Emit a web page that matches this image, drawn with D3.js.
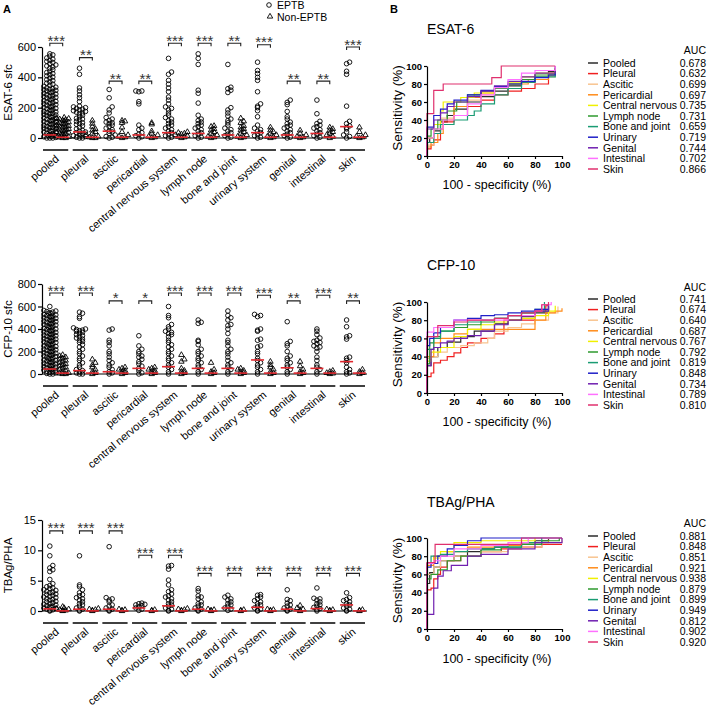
<!DOCTYPE html>
<html><head><meta charset="utf-8">
<script src="https://cdn.jsdelivr.net/npm/d3@7"></script>
<style>body{margin:0;background:#fff}svg{display:block}</style>
</head><body><svg id="c" width="708" height="708"></svg>
<script>
const F = "'Liberation Sans', Arial, sans-serif";
const categories = ["pooled","pleural","ascitic","pericardial","central nervous system","lymph node","bone and joint","urinary system","genital","intestinal","skin"];

// ---------- ESAT-6 sfc ----------
const esatEPTB = [
 [555,548,540,528,520,512,505,498,490,482,475,468,460,450,440,432,425,418,410,402,395,385,378,370,362,355,348,340,335,330,326,322,318,314,310,306,302,298,294,290,285,280,276,272,268,264,260,255,250,246,242,238,234,230,225,220,216,212,208,204,200,196,192,188,184,180,176,172,168,164,160,156,152,148,144,140,136,132,128,124,120,116,112,108,104,100,96,92,88,84,80,76,72,68,64,60,56,52,48,44,40,36,32,28,24,20,16,12,8,4,0,0,0],
 [460,420,330,310,285,265,240,210,205,200,195,190,185,180,175,170,165,160,150,140,130,125,120,110,100,95,90,80,70,60,50,45,40,35,30,25,20,15,10,5,0,0],
 [320,265,205,185,165,135,125,115,105,100,95,85,75,65,55,45,40,30,20,10,5,0],
 [310,310,305,240,225,85,65,55,35,25,15,8,0],
 [525,435,420,380,355,330,305,270,250,225,205,195,185,165,150,135,125,115,105,95,85,75,65,55,45,35,25,15,5,0],
 [555,525,485,315,295,230,150,125,115,105,95,85,75,65,55,45,35,25,15,5,0],
 [485,335,325,315,300,200,185,165,145,125,115,100,85,65,55,45,35,25,15,5,0],
 [500,445,425,400,380,305,225,210,200,180,140,85,65,55,45,35,25,15,5,0],
 [250,235,220,175,140,125,105,95,85,75,65,55,45,35,25,15,5,0],
 [250,160,110,95,85,75,65,55,45,35,25,15,5,0],
 [500,490,440,420,210,110,95,80,70,60,40,20,10,0]
];
const esatNon = [
 [135,132,128,124,120,116,112,108,104,100,96,92,88,84,80,76,72,68,64,60,56,52,48,44,40,36,32,28,24,20,16,12,8,4,0,0],
 [115,95,75,60,50,40,30,20,10,5,0,0],
 [115,110,100,70,40,20,10,5,0],
 [100,90,45,30,20,10,5,0],
 [40,35,30,25,20,15,10,5,0],
 [80,75,60,50,40,30,20,10,5,0],
 [130,110,100,80,70,60,50,40,30,20,10,5,0],
 [70,50,40,30,20,10,5,0],
 [50,30,20,10,5,0],
 [70,60,50,40,30,20,10,0],
 [70,40,20,10,5,0]
];
const esatMedE = [20,40,45,20,35,30,20,35,20,30,75];
const esatMedN = [5,5,5,5,5,5,5,5,5,5,5];
const esatStars = ["***","**","**","**","***","***","**","***","**","**","***"];
const esatBracket = [625,530,375,375,625,625,625,615,375,375,600];
const esatTicks = [0,200,400,600];

// ---------- CFP-10 sfc ----------
const cfpEPTB = [
 [600,565,560,555,550,545,540,535,530,525,520,515,510,505,500,495,490,485,480,475,470,465,460,455,450,445,440,435,430,425,420,415,410,405,400,395,390,385,380,375,370,365,360,355,350,345,340,335,330,325,320,315,310,305,300,295,290,285,280,275,270,265,260,255,250,245,240,235,230,225,220,215,210,205,200,195,190,185,180,175,170,165,160,155,150,145,140,135,130,125,120,115,110,105,100,95,90,85,80,75,70,65,60,55,50,45,40,35,30,25,20,15,10,5,0,0],
 [550,540,510,495,410,400,395,390,385,380,370,360,350,340,330,320,310,300,290,280,260,240,220,200,180,160,140,120,100,80,60,40,30,20,10,0,0],
 [400,390,300,280,250,200,180,150,120,100,80,60,40,20,10,0],
 [340,250,220,200,180,160,150,130,110,90,70,50,30,10,0],
 [600,520,500,440,420,400,380,370,360,350,330,300,280,260,240,220,200,180,160,140,120,100,80,60,40,20,0],
 [480,460,450,300,290,260,220,200,180,160,140,120,100,80,60,40,20,0],
 [560,520,500,480,440,430,400,360,300,280,250,220,200,180,150,120,100,80,60,40,20,0],
 [530,520,510,400,390,380,310,300,250,240,200,180,140,120,100,80,60,40,20,0],
 [465,290,270,250,200,160,140,120,100,80,60,40,20,0],
 [400,380,350,320,300,290,280,270,250,240,230,200,150,120,80,60,40,20,0],
 [480,420,340,330,310,150,140,120,100,60,40,20,10,0]
];
const cfpNon = [
 [170,160,150,140,130,120,110,100,90,80,70,60,50,40,30,20,10,5,0,0],
 [130,100,80,60,40,20,10,0],
 [60,50,40,30,20,10,0],
 [60,50,40,30,20,10,0],
 [170,130,110,50,30,20,10,0],
 [100,40,20,10,0],
 [50,40,30,20,10,0],
 [110,80,60,40,20,10,0],
 [110,70,40,20,10,0],
 [30,20,10,5,0],
 [40,20,10,0]
];
const cfpMedE = [44,30,20,50,65,50,50,125,55,50,110];
const cfpMedN = [8,8,8,8,8,8,8,8,8,8,8];
const cfpStars = ["***","***","*","*","***","***","***","***","**","***","**"];
const cfpBracket = [720,720,650,650,720,720,720,700,650,700,650];
const cfpTicks = [0,200,400,600,800];

// ---------- TBAg/PHA ----------
const tbagEPTB = [
 [10.7,9.1,7.5,7.1,6.8,6.5,5.2,4.5,4.2,4.0,3.8,3.7,3.5,3.4,3.2,3.1,3.0,2.8,2.7,2.6,2.4,2.3,2.2,2.0,1.9,1.8,1.6,1.5,1.4,1.2,1.1,1.0,0.9,0.8,0.7,0.6,0.5,0.4,0.3,0.2,0.1,0],
 [9.1,4.3,4.0,3.5,3.0,2.7,2.5,2.2,2.0,1.8,1.5,1.2,1.0,0.8,0.5,0.3,0.1,0],
 [10.6,2.2,2.0,1.8,1.5,1.0,0.8,0.5,0.3,0.1,0],
 [1.3,1.2,1.1,1.0,0.9,0.7,0.5,0.3,0.1],
 [7.5,7.4,6.9,5.1,4.3,3.5,3.2,2.8,2.5,2.3,2.0,1.8,1.5,1.2,1.0,0.8,0.5,0.3,0.1,0],
 [3.7,3.3,2.5,2.3,2.0,1.5,1.2,1.0,0.8,0.5,0.3,0.1,0],
 [2.6,2.3,2.0,1.8,1.5,1.2,1.0,0.8,0.5,0.3,0.1],
 [2.7,2.6,2.3,2.0,1.7,1.5,1.2,1.0,0.8,0.5,0.3,0.1,0],
 [3.5,1.9,1.7,1.3,1.0,0.8,0.5,0.3,0.1,0],
 [3.8,2.1,2.0,1.8,1.5,1.2,1.0,0.8,0.6,0.4,0.2,0],
 [3.0,2.2,1.9,1.7,1.5,1.2,1.0,0.8,0.5,0.3,0.1,0]
];
const tbagNon = [
 [0.7,0.5,0.4,0.3,0.2,0.1,0.05,0],
 [0.4,0.3,0.2,0.1,0],
 [0.3,0.2,0.1,0],
 [0.2,0.1,0],
 [0.4,0.3,0.2,0.1,0],
 [0.3,0.2,0.1,0],
 [0.2,0.1,0],
 [0.3,0.2,0.1,0],
 [0.9,0.5,0.3,0.1,0],
 [0.3,0.2,0.1,0],
 [0.2,0.1,0]
];
const tbagMedE = [0.35,0.3,0.3,0.5,0.85,0.3,0.5,0.6,0.3,0.4,1.0];
const tbagMedN = [0.02,0.02,0.02,0.02,0.02,0.02,0.02,0.02,0.02,0.02,0.02];
const tbagStars = ["***","***","***","***","***","***","***","***","***","***","***"];
const tbagBracket = [13.2,13.2,13.2,9.2,9.2,6.2,6.2,6.2,6.2,6.2,6.2];
const tbagTicks = [0,5,10,15];

// ---------- ROC ----------
const rocNames = ["Pooled","Pleural","Ascitic","Pericardial","Central nervous","Lymph node","Bone and joint","Urinary","Genital","Intestinal","Skin"];
const rocColors = ["#2b2b2b","#f02020","#f8c490","#ff8c1a","#f0f000","#2e9a2e","#1a9c74","#2020c8","#7020b0","#ff70ff","#e0306e"];
const rocTicks = [0,20,40,60,80,100];

const esatAUC = [0.678,0.632,0.699,0.697,0.735,0.731,0.659,0.719,0.744,0.702,0.866];
const esatROC = [
 [[0,0],[0,15],[2,20],[5,28],[10,38],[15,45],[20,52],[30,60],[40,66],[50,72],[60,78],[70,82],[80,88],[90,94],[95,98]],
 [[0,0],[0,8],[3,12],[5,18],[10,30],[12,38],[20,45],[30,55],[40,62],[50,68],[60,72],[70,75],[80,80],[90,90],[95,97]],
 [[0,0],[0,12],[5,30],[10,42],[20,55],[30,62],[40,68],[50,75],[60,80],[70,85],[80,88],[95,98]],
 [[0,0],[0,10],[3,15],[8,25],[12,40],[20,55],[30,65],[40,70],[50,75],[60,80],[75,85],[90,92],[95,97]],
 [[0,0],[0,20],[5,35],[10,50],[12,60],[18,60],[25,65],[35,70],[50,76],[60,82],[70,88],[80,92],[95,97]],
 [[0,0],[0,22],[3,30],[8,40],[15,50],[22,60],[30,68],[40,72],[50,75],[60,80],[70,85],[80,90],[95,98]],
 [[0,0],[0,15],[5,25],[10,35],[20,40],[30,45],[35,50],[40,58],[50,68],[60,75],[70,82],[80,88],[95,95]],
 [[0,0],[0,32],[3,32],[5,45],[10,52],[15,58],[20,62],[30,68],[40,73],[50,77],[60,80],[70,83],[80,87],[90,90],[95,92]],
 [[0,0],[0,30],[5,40],[10,48],[15,55],[20,60],[30,66],[40,72],[50,78],[60,83],[70,88],[80,92],[95,100]],
 [[0,0],[0,20],[5,30],[12,40],[20,45],[30,58],[40,68],[50,76],[60,85],[70,92],[80,95],[95,100]],
 [[0,0],[0,47],[5,47],[5,73],[12,73],[12,80],[48,80],[48,87],[55,87],[55,100],[95,100]]
];
const cfpAUC = [0.741,0.674,0.640,0.687,0.767,0.792,0.819,0.848,0.734,0.789,0.810];
const cfpROC = [
 [[0,0],[0,30],[3,40],[8,50],[15,56],[25,62],[35,68],[50,76],[60,80],[70,84],[80,88],[90,96]],
 [[0,0],[0,18],[3,22],[5,33],[10,36],[15,40],[20,44],[25,50],[30,55],[40,60],[50,65],[57,68],[57,80],[80,80],[80,90],[88,96],[90,98]],
 [[0,0],[0,38],[3,40],[8,45],[15,50],[25,52],[35,55],[45,60],[50,68],[60,72],[70,76],[80,80],[90,88],[97,95]],
 [[0,0],[0,40],[5,55],[10,60],[20,65],[30,70],[80,70],[80,80],[88,88],[95,90],[100,93]],
 [[0,0],[0,35],[3,45],[10,50],[20,62],[30,70],[40,75],[50,78],[60,80],[70,82],[80,85],[90,90],[95,96]],
 [[0,0],[0,32],[2,55],[5,62],[10,68],[20,72],[30,75],[40,78],[50,82],[60,85],[70,88],[80,90],[90,95]],
 [[0,0],[0,48],[5,60],[10,68],[20,75],[30,78],[40,80],[50,82],[60,85],[70,88],[80,92],[87,100]],
 [[0,0],[0,52],[2,60],[5,66],[10,72],[20,80],[30,82],[40,85],[50,86],[60,88],[70,90],[80,92],[90,98]],
 [[0,0],[0,30],[2,30],[3,48],[5,50],[10,55],[15,57],[20,60],[30,63],[40,68],[50,75],[60,80],[70,85],[80,90],[90,98]],
 [[0,0],[0,67],[5,67],[5,72],[10,72],[20,80],[40,80],[60,85],[80,90],[85,97],[92,100]],
 [[0,0],[0,62],[8,62],[8,74],[20,78],[30,80],[50,82],[60,85],[70,88],[80,90],[85,97],[90,100]]
];
const tbagAUC = [0.881,0.848,0.851,0.921,0.938,0.879,0.899,0.949,0.812,0.902,0.920];
const tbagROC = [
 [[0,0],[0,50],[2,62],[5,68],[10,75],[20,80],[30,85],[40,88],[50,90],[60,92],[70,95],[80,97],[90,99]],
 [[0,0],[0,43],[3,45],[5,55],[8,60],[10,68],[15,75],[25,80],[40,85],[55,88],[70,90],[85,93],[100,93]],
 [[0,0],[0,60],[5,68],[10,75],[20,80],[40,85],[60,88],[70,90],[85,95],[100,100]],
 [[0,0],[0,70],[5,80],[15,85],[30,90],[50,92],[70,95],[90,98]],
 [[0,0],[0,72],[5,78],[10,85],[20,95],[40,97],[60,97],[80,100]],
 [[0,0],[0,55],[3,60],[8,65],[15,75],[25,80],[40,87],[55,90],[70,93],[85,97],[98,100]],
 [[0,0],[0,72],[3,80],[10,82],[20,85],[30,88],[50,90],[70,95],[85,100]],
 [[0,0],[0,68],[3,72],[8,80],[15,88],[20,92],[30,97],[40,100],[100,100]],
 [[0,0],[0,16],[5,16],[5,45],[8,45],[8,58],[12,64],[18,64],[18,70],[30,70],[30,80],[40,82],[60,88],[80,95],[100,100]],
 [[0,0],[0,72],[5,75],[10,80],[20,88],[40,92],[60,95],[75,100]],
 [[0,0],[0,73],[6,73],[6,93],[70,93],[70,100],[100,100]]
];

const svg = d3.select("#c");

function styleAxis(ax, size, bold) {
  ax.select(".domain").attr("stroke", "#000").attr("stroke-width", 1.2);
  ax.selectAll(".tick line").attr("stroke", "#000").attr("stroke-width", 1.2);
  ax.selectAll(".tick text").attr("font-family", F).attr("font-size", size)
    .attr("font-weight", bold ? "bold" : "normal").attr("fill", "#000");
}

const swarmOffsets = [0, 3, -3, 6, -6, 1.5, -1.5, 4.5, -4.5, 7.5, -7.5];
function swarm(values, cx, y, binH) {
  const sorted = values.slice().sort((a, b) => a - b);
  const bins = new Map();
  return sorted.map(v => {
    const py = y(v);
    const b = Math.round(py / binH);
    const j = bins.get(b) || 0; bins.set(b, j + 1);
    return { x: cx + swarmOffsets[j % swarmOffsets.length], y: py };
  });
}

function scatterPanel(o) {
  const x = d3.scaleBand().domain(categories).range([43, 365]).paddingInner(0.15);
  const bw = x.bandwidth();
  const y = d3.scaleLinear().domain(o.domain).range(o.range);
  const g = svg.append("g");
  const base = y(0);
  const ax = g.append("g").attr("transform", "translate(42,0)")
    .call(d3.axisLeft(y).tickValues(o.ticks).tickSize(4).tickSizeOuter(0).tickPadding(2));
  styleAxis(ax, 11, false);
  g.append("line").attr("x1", 42).attr("x2", 367).attr("y1", base).attr("y2", base)
    .attr("stroke", "#000").attr("stroke-width", 1.2);
  g.append("text").attr("transform", `translate(12,${(o.range[0] + o.range[1]) / 2}) rotate(-90)`)
    .attr("text-anchor", "middle").attr("font-family", F).attr("font-size", 11.5).text(o.label);

  categories.forEach((c, i) => {
    const xE = x(c) + bw * 0.27, xN = x(c) + bw * 0.78;
    const pe = swarm(o.eptb[i], xE, y, 3.5);
    g.selectAll(null).data(pe).enter().append("circle")
      .attr("cx", d => d.x).attr("cy", d => d.y).attr("r", 2.3)
      .attr("fill", "none").attr("stroke", "#000").attr("stroke-width", 0.9);
    const pn = swarm(o.non[i], xN, y, 3.5);
    g.selectAll(null).data(pn).enter().append("path")
      .attr("d", d3.symbol(d3.symbolTriangle, 13))
      .attr("transform", d => `translate(${d.x},${d.y})`)
      .attr("fill", "none").attr("stroke", "#000").attr("stroke-width", 0.9);
    [[xE, o.medE[i]], [xN, o.medN[i]]].forEach(([cx, m]) => {
      g.append("line").attr("x1", cx - 6.5).attr("x2", cx + 6.5).attr("y1", y(m)).attr("y2", y(m))
        .attr("stroke", "#e0282e").attr("stroke-width", 1.6);
    });
    // bracket + stars
    const yb = y(o.bracket[i]);
    g.append("path").attr("d", `M${xE},${yb + 3}V${yb}H${xN}V${yb + 3}`)
      .attr("fill", "none").attr("stroke", "#222").attr("stroke-width", 1.1);
    g.append("text").attr("x", (xE + xN) / 2).attr("y", yb + 2.5).attr("text-anchor", "middle")
      .attr("font-family", F).attr("font-size", 15).attr("fill", "#333").text(o.stars[i]);
    // group underline
    g.append("line").attr("x1", x(c)).attr("x2", x(c) + bw).attr("y1", base + 12).attr("y2", base + 12)
      .attr("stroke", "#000").attr("stroke-width", 1.5);
    g.append("text").attr("transform", `translate(${x(c) + bw * 0.66},${base + 22}) rotate(-40)`)
      .attr("text-anchor", "end").attr("font-family", F).attr("font-size", 11).text(c);
  });
}

function rocPanel(o) {
  const x = d3.scaleLinear().domain([0, 100]).range([427, 562]);
  const y = d3.scaleLinear().domain([0, 100]).range(o.range);
  const g = svg.append("g");
  const line = d3.line().x(d => x(d[0])).y(d => y(d[1])).curve(d3.curveStepAfter);
  o.roc.forEach((pts, i) => {
    g.append("path").attr("d", line(pts)).attr("fill", "none")
      .attr("stroke", rocColors[i]).attr("stroke-width", 1.2);
  });
  const axb = g.append("g").attr("transform", `translate(0,${y(0)})`)
    .call(d3.axisBottom(x).tickValues(rocTicks).tickSize(3).tickSizeOuter(0).tickPadding(2));
  styleAxis(axb, 9.5, true);
  const axl = g.append("g").attr("transform", `translate(427,0)`)
    .call(d3.axisLeft(y).tickValues(rocTicks).tickSize(3).tickSizeOuter(0).tickPadding(2));
  styleAxis(axl, 9.5, true);
  g.append("text").attr("x", 427).attr("y", o.titleY + 5).attr("font-family", F).attr("font-size", 14).text(o.title);
  g.append("text").attr("transform", `translate(402,${y(50) - 3}) rotate(-90)`).attr("text-anchor", "middle")
    .attr("font-family", F).attr("font-size", 13.5).text("Sensitivity (%)");
  g.append("text").attr("x", 497).attr("y", o.xlabY + 4.5).attr("text-anchor", "middle")
    .attr("font-family", F).attr("font-size", 12.5).text("100 - specificity (%)");
  g.append("text").attr("x", 706).attr("y", o.aucY + 4).attr("text-anchor", "end")
    .attr("font-family", F).attr("font-size", 10.5).text("AUC");
  rocNames.forEach((n, i) => {
    const ly = o.legY + i * 10.6;
    g.append("line").attr("x1", 588).attr("x2", 598).attr("y1", ly).attr("y2", ly)
      .attr("stroke", rocColors[i]).attr("stroke-width", 1.5);
    g.append("text").attr("x", 603).attr("y", ly + 3.8).attr("font-family", F).attr("font-size", 10.5).text(n);
    g.append("text").attr("x", 706).attr("y", ly + 3.8).attr("text-anchor", "end")
      .attr("font-family", F).attr("font-size", 10.5).text(o.auc[i].toFixed(3));
  });
}

// panel letters
svg.append("text").attr("x", 3).attr("y", 13).attr("font-family", F).attr("font-weight", "bold").attr("font-size", 11).text("A");
svg.append("text").attr("x", 390).attr("y", 13).attr("font-family", F).attr("font-weight", "bold").attr("font-size", 11).text("B");

// scatter legend
svg.append("circle").attr("cx", 269).attr("cy", 5).attr("r", 2.3).attr("fill", "none").attr("stroke", "#000").attr("stroke-width", 0.9);
svg.append("text").attr("x", 277).attr("y", 9).attr("font-family", F).attr("font-size", 10.5).text("EPTB");
svg.append("path").attr("d", d3.symbol(d3.symbolTriangle, 13)).attr("transform", "translate(270,16.5)")
  .attr("fill", "none").attr("stroke", "#000").attr("stroke-width", 0.9);
svg.append("text").attr("x", 277).attr("y", 20.5).attr("font-family", F).attr("font-size", 10.5).text("Non-EPTB");

scatterPanel({ domain: [0, 600], range: [138, 47], ticks: esatTicks, label: "ESAT-6 sfc",
  eptb: esatEPTB, non: esatNon, medE: esatMedE, medN: esatMedN, stars: esatStars, bracket: esatBracket });
scatterPanel({ domain: [0, 800], range: [374, 284], ticks: cfpTicks, label: "CFP-10 sfc",
  eptb: cfpEPTB, non: cfpNon, medE: cfpMedE, medN: cfpMedN, stars: cfpStars, bracket: cfpBracket });
scatterPanel({ domain: [0, 15], range: [611, 520], ticks: tbagTicks, label: "TBAg/PHA",
  eptb: tbagEPTB, non: tbagNon, medE: tbagMedE, medN: tbagMedN, stars: tbagStars, bracket: tbagBracket });

rocPanel({ range: [156, 66], title: "ESAT-6", titleY: 29, xlabY: 184, aucY: 50, legY: 63, roc: esatROC, auc: esatAUC });
rocPanel({ range: [393, 302], title: "CFP-10", titleY: 265, xlabY: 421, aucY: 287, legY: 299, roc: cfpROC, auc: cfpAUC });
rocPanel({ range: [629, 538], title: "TBAg/PHA", titleY: 502, xlabY: 658, aucY: 523, legY: 536, roc: tbagROC, auc: tbagAUC });
</script></body></html>
